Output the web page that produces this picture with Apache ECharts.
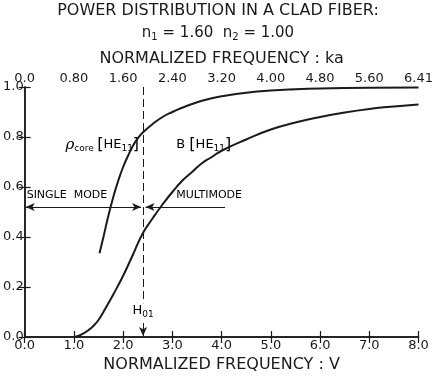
<!DOCTYPE html>
<html>
<head>
<meta charset="utf-8">
<script src="https://cdn.jsdelivr.net/npm/echarts@6/dist/echarts.min.js"></script>
<style>
  html, body { margin: 0; padding: 0; background: #fff; }
  #chart { width: 436px; height: 383px; }
</style>
</head>
<body>
<div id="chart"></div>
<script>
// bottom axis V ticks, top axis ka ticks (same tick positions)
const vTicks = ['0.0', '1.0', '2.0', '3.0', '4.0', '5.0', '6.0', '7.0', '8.0'];
const kaTicks = ['0.0', '0.80', '1.60', '2.40', '3.20', '4.00', '4.80', '5.60', '6.41'];
const yTicks = ['0.0', '0.2', '0.4', '0.6', '0.8', '1.0'];

// rho_core [HE11]
const coreV = [1.52, 1.6, 1.7, 1.8, 1.9, 2.0, 2.1, 2.2, 2.3, 2.4, 2.6, 2.8, 3.0, 3.2, 3.4, 3.6, 3.8, 4.0, 4.5, 5.0, 5.5, 6.0, 7.0, 8.0];
const coreP = [0.335, 0.40, 0.485, 0.56, 0.625, 0.68, 0.725, 0.765, 0.795, 0.818, 0.852, 0.88, 0.90, 0.917, 0.932, 0.945, 0.955, 0.963, 0.977, 0.986, 0.991, 0.994, 0.997, 0.998];

// B [HE11]
const bV = [1.0, 1.1, 1.2, 1.3, 1.4, 1.5, 1.6, 1.7, 1.8, 2.0, 2.2, 2.4, 2.6, 2.8, 3.0, 3.2, 3.4, 3.6, 3.8, 4.0, 4.5, 5.0, 5.5, 6.0, 6.5, 7.0, 7.5, 8.0];
const bP = [0.0, 0.005, 0.015, 0.028, 0.045, 0.068, 0.10, 0.135, 0.17, 0.245, 0.33, 0.415, 0.475, 0.53, 0.58, 0.625, 0.66, 0.695, 0.72, 0.745, 0.79, 0.83, 0.858, 0.88, 0.898, 0.912, 0.922, 0.93];

// H01 cutoff and mode arrows
const cutoffV = 2.405;
const arrowY = 0.52;
const multiEndV = 4.07;

const FONT = 'DejaVu Sans';
const INK = '#1a1a1a';

const chart = echarts.init(document.getElementById('chart'));

const axisCommon = {
    type: 'value',
    axisLine: { show: true, lineStyle: { color: INK, width: 1.5 } },
    axisTick: { show: true, inside: true, length: 6, lineStyle: { color: INK, width: 1.2 } },
    splitLine: { show: false },
    axisLabel: { color: INK, fontFamily: FONT, fontSize: 13 }
};

const pair = (v, p) => v.map((x, i) => [x, p[i]]);

const option = {
    animation: false,
    title: {
        left: 'center',
        top: -2,
        text: 'POWER DISTRIBUTION IN A CLAD FIBER:',
        textStyle: { fontFamily: FONT, fontSize: 16, fontWeight: 'normal', color: INK },
        subtext: '{t|n}{s|1}{t| = 1.60  n}{s|2}{t| = 1.00}',
        subtextStyle: {
            rich: {
                t: { fontFamily: FONT, fontSize: 15, color: INK },
                s: { fontFamily: FONT, fontSize: 10, color: INK, padding: [8, 0, 0, 0] }
            }
        },
        itemGap: 5
    },
    grid: { left: 20, right: 13, top: 87, bottom: 46 },
    xAxis: [
        Object.assign({}, axisCommon, {
            position: 'bottom', min: 0, max: 8, interval: 1,
            name: 'NORMALIZED FREQUENCY : V', nameLocation: 'middle', nameGap: 12,
            nameTextStyle: { fontFamily: FONT, fontSize: 16, color: INK },
            axisLabel: Object.assign({}, axisCommon.axisLabel, { margin: 2, formatter: (v) => vTicks[Math.round(v)] })
        }),
        Object.assign({}, axisCommon, {
            position: 'top', min: 0, max: 8, interval: 1,
            name: 'NORMALIZED FREQUENCY : ka', nameLocation: 'middle', nameGap: 17,
            nameTextStyle: { fontFamily: FONT, fontSize: 16, color: INK },
            axisLabel: Object.assign({}, axisCommon.axisLabel, { margin: 2, formatter: (v) => kaTicks[Math.round(v)] })
        })
    ],
    yAxis: [
        Object.assign({}, axisCommon, {
            position: 'left', min: 0, max: 1, interval: 0.2,
            axisLabel: Object.assign({}, axisCommon.axisLabel, { margin: 1, formatter: (v) => yTicks[Math.round(v * 5)] })
        }),
        Object.assign({}, axisCommon, {
            position: 'right', min: 0, max: 1, interval: 0.2,
            axisLabel: { show: false }
        })
    ],
    series: [
        {
            name: 'core',
            type: 'line',
            data: pair(coreV, coreP),
            smooth: true,
            showSymbol: false,
            lineStyle: { color: INK, width: 2 },
            markLine: {
                silent: true,
                symbol: ['none', 'none'],
                symbolSize: [6, 9],
                label: { show: false },
                lineStyle: { color: INK, width: 1, type: 'solid' },
                data: [
                    [
                        { coord: [cutoffV, 1.0], lineStyle: { type: [8, 4], width: 1 } },
                        { coord: [cutoffV, 0.135] }
                    ],
                    [
                        { coord: [cutoffV, 0.056] },
                        { coord: [cutoffV, 0.004], symbol: 'arrow' }
                    ],
                    [
                        { coord: [0.02, arrowY], symbol: 'arrow' },
                        { coord: [cutoffV - 0.04, arrowY], symbol: 'arrow' }
                    ],
                    [
                        { coord: [cutoffV + 0.05, arrowY], symbol: 'arrow' },
                        { coord: [multiEndV, arrowY] }
                    ]
                ]
            }
        },
        {
            name: 'B',
            type: 'line',
            data: pair(bV, bP),
            smooth: true,
            showSymbol: false,
            lineStyle: { color: INK, width: 2 }
        }
    ]
};
chart.setOption(option);

// text annotations placed in data coordinates
const px = (v, p) => chart.convertToPixel({ xAxisIndex: 0, yAxisIndex: 0 }, [v, p]);
const rich = {
    t: { fontFamily: FONT, fontSize: 13, color: INK },
    m: { fontFamily: FONT, fontSize: 11, color: INK },
    b: { fontFamily: FONT, fontSize: 16, color: INK },
    r: { fontFamily: 'DejaVu Serif', fontStyle: 'italic', fontSize: 15, color: INK },
    s: { fontFamily: FONT, fontSize: 9, color: INK, padding: [8, 0, 0, 0] }
};
const note = (v, p, text, align) => {
    const [x, y] = px(v, p);
    return {
        type: 'text', x: x, y: y,
        style: { text: text, rich: rich, align: align || 'left', verticalAlign: 'middle' }
    };
};
chart.setOption({
    graphic: [
        note(0.83, 0.768, '{r|ρ}{s|core} {b|[}{t|HE}{s|11}{b|]}'),
        note(3.08, 0.768, '{t|B }{b|[}{t|HE}{s|11}{b|]}'),
        note(0.04, 0.568, '{m|SINGLE  MODE}'),
        note(3.08, 0.568, '{m|MULTIMODE}'),
        note(cutoffV, 0.105, '{t|H}{s|01}', 'center')
    ]
});
</script>
</body>
</html>
